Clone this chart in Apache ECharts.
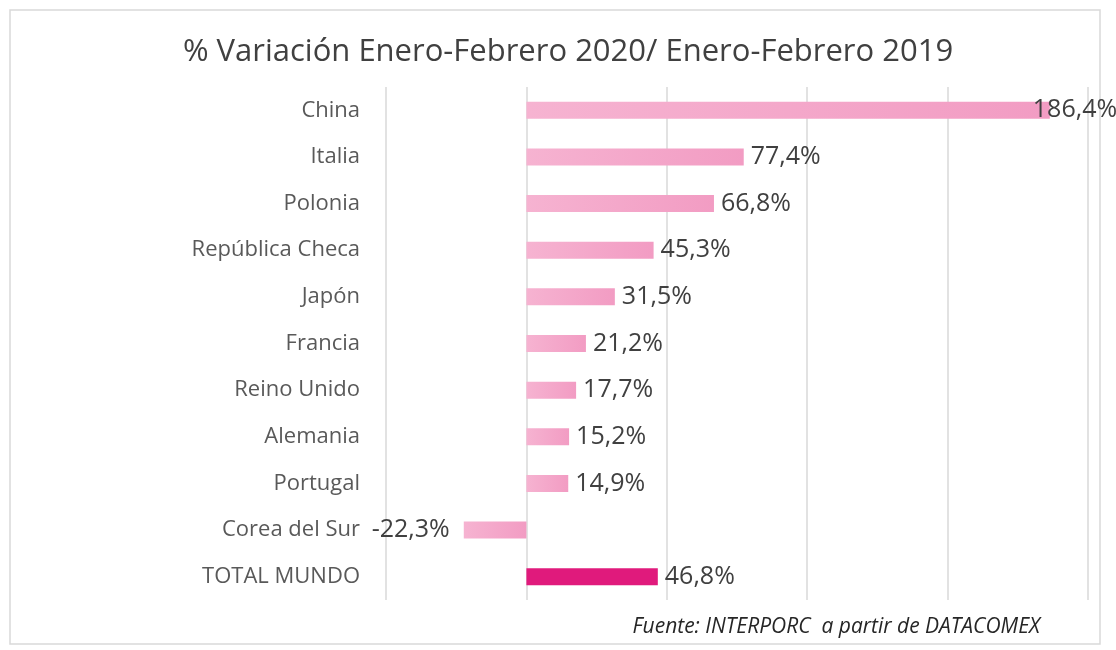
<!DOCTYPE html>
<html>
<head>
<meta charset="utf-8">
<script src="https://cdn.jsdelivr.net/npm/echarts@6/dist/echarts.min.js"></script>
<style>
  html, body { margin: 0; padding: 0; background: #fff; }
  #chart { width: 1116px; height: 650px; }
</style>
</head>
<body>
<div id="chart"></div>
<script>
// categories top to bottom
const paises = ['China', 'Italia', 'Polonia', 'República Checa', 'Japón', 'Francia',
  'Reino Unido', 'Alemania', 'Portugal', 'Corea del Sur', 'TOTAL MUNDO']
const variacion = [186.4, 77.4, 66.8, 45.3, 31.5, 21.2, 17.7, 15.2, 14.9, -22.3, 46.8]

const titulo = '% Variación Enero-Febrero 2020/ Enero-Febrero 2019'
const fuente = 'Fuente: INTERPORC  a partir de DATACOMEX'

const rosa = new echarts.graphic.LinearGradient(0, 0, 1, 0, [
  { offset: 0, color: '#f6b3d1' },
  { offset: 1, color: '#f29cc3' }
])
const fucsia = '#e01a7c'

const chart = echarts.init(document.getElementById('chart'))

// ECharts lists category axis bottom-up, so reverse
const cats = paises.slice().reverse()
const vals = variacion.slice().reverse()

chart.setOption({
  backgroundColor: '#fff',
  animation: false,
  title: {
    text: titulo,
    left: 563,
    textAlign: 'center',
    top: 32,
    textStyle: {
      fontFamily: 'Open Sans',
      fontWeight: 'normal',
      fontSize: 31,
      color: '#404040'
    }
  },
  graphic: [{
    type: 'rect',
    shape: { x: 10, y: 10, width: 1090, height: 634 },
    style: { fill: 'none', stroke: '#d9d9d9', lineWidth: 1.5 },
    silent: true
  }, {
    type: 'text',
    right: 76,
    top: 617,
    style: {
      text: fuente,
      fontFamily: 'Open Sans',
      fontStyle: 'italic',
      fontSize: 21,
      fill: '#262626'
    }
  }],
  grid: {
    left: 386,
    right: 28,
    top: 87,
    height: 513
  },
  xAxis: {
    type: 'value',
    min: -50,
    max: 200,
    interval: 50,
    axisLabel: { show: false },
    axisLine: { show: false },
    axisTick: { show: false },
    splitLine: { lineStyle: { color: '#d9d9d9', width: 1.5 } }
  },
  yAxis: {
    type: 'category',
    data: cats,
    axisLine: { show: false },
    axisTick: { show: false },
    axisLabel: {
      margin: 26,
      fontFamily: 'Open Sans',
      fontSize: 22,
      color: '#595959'
    }
  },
  series: [{
    type: 'bar',
    barWidth: 17,
    data: vals.map((v, i) => {
      const item = { value: v }
      if (cats[i] === 'TOTAL MUNDO') item.itemStyle = { color: fucsia }
      if (v < 0) item.label = { position: 'left', distance: 14 }
      if (cats[i] === 'China') item.label = { offset: [-24, 0] }
      return item
    }),
    itemStyle: { color: rosa },
    label: {
      show: true,
      position: 'right',
      distance: 7,
      fontFamily: 'Open Sans',
      fontSize: 25,
      color: '#404040',
      formatter: p => p.value.toFixed(1).replace('.', ',') + '%'
    }
  }]
})
</script>
</body>
</html>
